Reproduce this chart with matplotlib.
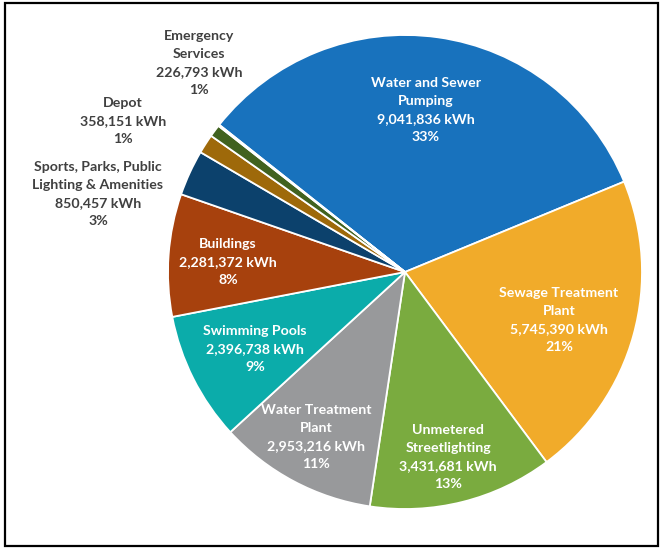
import matplotlib
matplotlib.use('Agg')
import matplotlib.pyplot as plt
from matplotlib.patches import Rectangle

# Annual electricity use by facility type
categories = [
    "Water and Sewer\nPumping",
    "Sewage Treatment\nPlant",
    "Unmetered\nStreetlighting",
    "Water Treatment\nPlant",
    "Swimming Pools",
    "Buildings",
    "Sports, Parks, Public\nLighting & Amenities",
    "Depot",
    "Emergency\nServices",
    "Other",
]
kwh = [9041836, 5745390, 3431681, 2953216, 2396738, 2281372, 850457, 358151, 226793, 25000]
pct_labels = ["33%", "21%", "13%", "11%", "9%", "8%", "3%", "1%", "1%", ""]
colors = ["#1872bd", "#f1ab2a", "#7aab3f", "#98999b", "#0bacaa",
          "#a7410d", "#0c416c", "#9e690a", "#41621f", "#c8d3de"]

# label anchor points in pixels (x from left, y from top) and text colour
label_pos = [(426, 110), (559, 320), (448, 457), (316, 437), (255, 349),
             (228, 262), (98, 194), (123, 121), (199, 63), None]
label_col = ["white"] * 6 + ["#404040"] * 3 + [None]

W, H = 661, 548
CX, CY, R = 405, 272, 237

fig = plt.figure(figsize=(W / 100, H / 100), dpi=100)
ax = fig.add_axes([(CX - R) / W, (H - CY - R) / H, 2 * R / W, 2 * R / H])

ax.pie(kwh, colors=colors, startangle=141.6, counterclock=False, radius=1,
       wedgeprops=dict(edgecolor="white", linewidth=1.3))
ax.set_xlim(-1, 1)
ax.set_ylim(-1, 1)
ax.axis("off")

for name, val, pct, pos, col in zip(categories, kwh, pct_labels, label_pos, label_col):
    if pos is None:
        continue
    txt = f"{name}\n{val:,} kWh\n{pct}"
    fig.text(pos[0] / W, 1 - pos[1] / H, txt, ha="center", va="center",
             fontsize=10.2, fontweight="bold", color=col, family="Lato",
             linespacing=1.6)

# outer frame
fig.patches.append(Rectangle((5 / W, 2 / H), 653 / W, 543 / H, transform=fig.transFigure,
                             fill=False, edgecolor="black", linewidth=1.6))

fig.savefig("out.png", dpi=100)
